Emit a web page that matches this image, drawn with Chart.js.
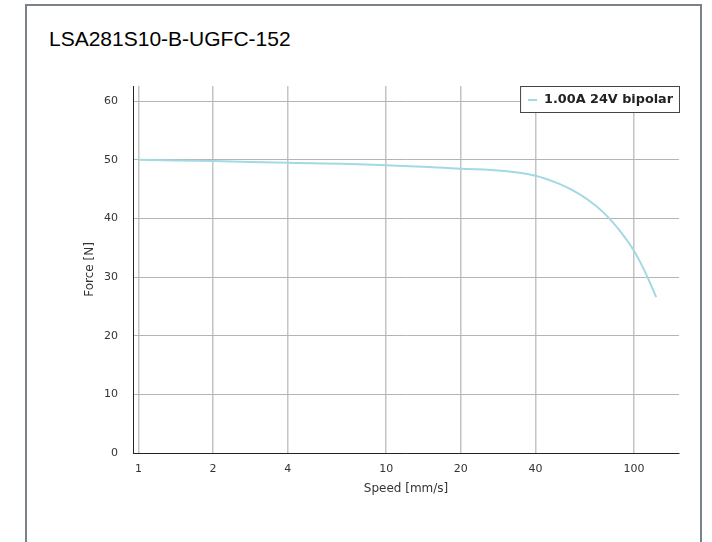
<!DOCTYPE html>
<html>
<head>
<meta charset="utf-8">
<script src="https://cdn.jsdelivr.net/npm/chart.js@4"></script>
<style>
  html, body { margin: 0; padding: 0; background: #fff; }
  body { width: 712px; height: 542px; position: relative; overflow: hidden; }
  #frame { position: absolute; left: 25px; top: 4px; width: 677px; height: 600px; border: 2px solid #7b8189; border-bottom: none; box-sizing: border-box; }
  #title { position: absolute; left: 49px; top: 27px; font-family: "Liberation Sans", Arial, sans-serif; font-size: 21px; color: #000; margin: 0; font-weight: normal; line-height: 24px; white-space: nowrap; }
  #wrap { position: absolute; left: 0; top: 0; width: 712px; height: 542px; }
</style>
</head>
<body>
<div id="frame"></div>
<h1 id="title">LSA281S10-B-UGFC-152</h1>
<div id="wrap"><canvas id="c" width="712" height="542"></canvas></div>
<script>
const seriesLabel = "1.00A 24V bipolar";
const speeds = [1, 2, 4, 10, 20, 30, 40, 50, 60, 70, 80, 90, 100, 110, 123];
const forces = [50.0, 49.8, 49.5, 49.1, 48.5, 48.1, 47.3, 45.9, 44.2, 42.2, 39.9, 37.3, 34.5, 31.2, 26.6];
const xTicks = [1, 2, 4, 10, 20, 40, 100];
const yTicks = [0, 10, 20, 30, 40, 50, 60];

const legendPlugin = {
  id: 'boxLegend',
  afterDraw(chart) {
    const ctx = chart.ctx;
    const a = chart.chartArea;
    const ds = chart.data.datasets[0];
    ctx.save();
    ctx.font = 'bold 12.8px "DejaVu Sans"';
    const tw = ctx.measureText(ds.label).width;
    const w = tw + 30, h = 26;
    const x = a.right - w, y = a.top;
    ctx.fillStyle = '#fff';
    ctx.fillRect(x, y, w, h);
    ctx.strokeStyle = '#444';
    ctx.lineWidth = 1;
    ctx.strokeRect(x + 0.5, y + 0.5, w, h);
    ctx.strokeStyle = ds.borderColor;
    ctx.lineWidth = 2;
    ctx.beginPath();
    ctx.moveTo(x + 8, y + 14);
    ctx.lineTo(x + 17, y + 14);
    ctx.stroke();
    ctx.fillStyle = '#222';
    ctx.textBaseline = 'middle';
    ctx.fillText(ds.label, x + 24, y + 14);
    ctx.restore();
  }
};

new Chart(document.getElementById('c'), {
  type: 'line',
  data: {
    datasets: [{
      label: seriesLabel,
      data: speeds.map((s, i) => ({ x: s, y: forces[i] })),
      borderColor: '#a3d9e2',
      borderWidth: 2,
      pointRadius: 0,
      fill: false,
      tension: 0.4
    }]
  },
  options: {
    responsive: false,
    animation: false,
    devicePixelRatio: 1,
    layout: { padding: { left: 0, top: 86, right: 33, bottom: 0 } },
    plugins: { legend: { display: false }, tooltip: { enabled: false } },
    scales: {
      x: {
        type: 'logarithmic',
        min: 0.95,
        max: 152,
        afterBuildTicks(scale) { scale.ticks = xTicks.map(v => ({ value: v })); },
        afterFit(scale) { scale.height = 89; },
        ticks: {
          autoSkip: false, maxRotation: 0, padding: 10,
          font: { family: 'DejaVu Sans', size: 11 }, color: '#333',
          callback: (v) => String(v)
        },
        grid: { color: '#c4c4c4', lineWidth: 1.5, drawTicks: false },
        border: { color: '#222', width: 1 },
        title: { display: true, text: 'Speed [mm/s]', font: { family: 'DejaVu Sans', size: 12 }, color: '#333', padding: { top: 4, bottom: 46 } }
      },
      y: {
        min: 0,
        max: 62.6,
        afterBuildTicks(scale) { scale.ticks = yTicks.map(v => ({ value: v })); },
        afterFit(scale) { scale.width = 133; },
        ticks: {
          padding: 15,
          font: { family: 'DejaVu Sans', size: 11 }, color: '#333'
        },
        grid: { color: '#b4b4b4', lineWidth: 1, drawTicks: false },
        border: { color: '#222', width: 1 },
        title: { display: true, text: 'Force [N]', font: { family: 'DejaVu Sans', size: 12 }, color: '#333', padding: { top: 83, bottom: 4 } }
      }
    }
  },
  plugins: [legendPlugin]
});
</script>
</body>
</html>
